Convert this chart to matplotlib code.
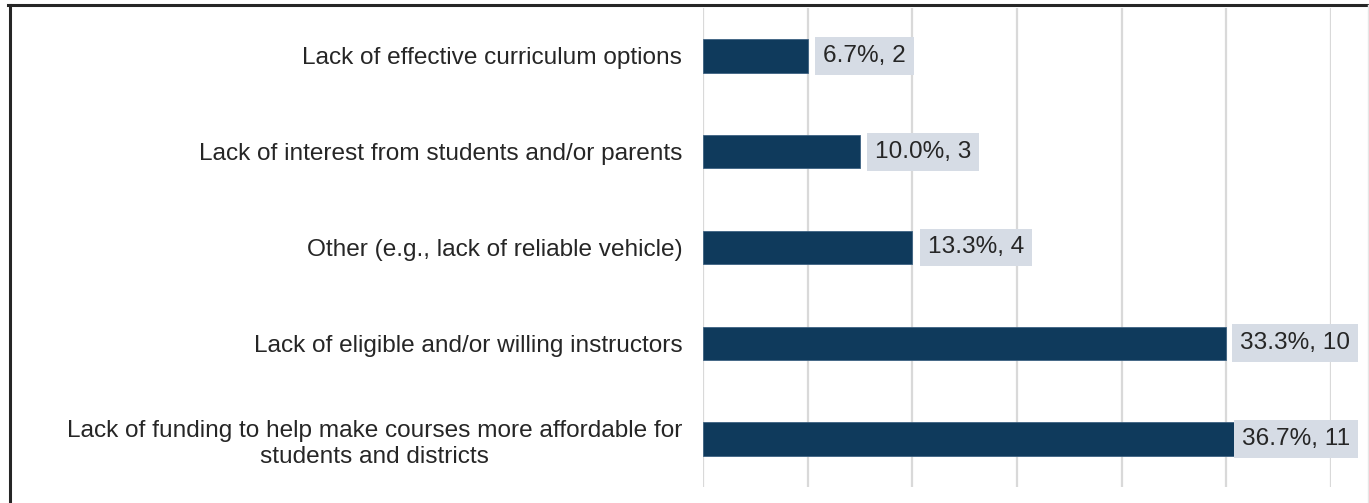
import matplotlib
matplotlib.use("Agg")
import matplotlib.pyplot as plt
from matplotlib.lines import Line2D

plt.rcParams["font.family"] = ["Liberation Sans", "DejaVu Sans"]

# Barriers, listed top to bottom
categories = [
    "Lack of effective curriculum options",
    "Lack of interest from students and/or parents",
    "Other (e.g., lack of reliable vehicle)",
    "Lack of eligible and/or willing instructors",
    "Lack of funding to help make courses more affordable for\nstudents and districts",
]
counts = [2, 3, 4, 10, 11]
percents = [6.7, 10.0, 13.3, 33.3, 36.7]
x_ticks = [0, 2, 4, 6, 8, 10, 12]

BAR_COLOR = "#0F3A5C"
BOX_COLOR = "#D6DCE5"
TEXT_COLOR = "#262626"
GRID_COLOR = "#D9D9D9"
FS = 17.6

W, H = 1369, 503
fig = plt.figure(figsize=(W / 100, H / 100), dpi=100)
ax = fig.add_axes([703 / W, 16 / H, (1331 - 703) / W, (487 - 8) / H])

ypos = list(range(len(categories)))
ax.barh(ypos, counts, height=0.35, color=BAR_COLOR, edgecolor="#3E6282",
        linewidth=0.6, zorder=2)

ax.set_xlim(x_ticks[0], x_ticks[-1])
ax.set_ylim(len(categories) - 0.5, -0.5)
ax.set_xticks(x_ticks)
ax.set_xticklabels([])
ax.tick_params(axis="both", length=0)
ax.grid(True, axis="x", color=GRID_COLOR, linewidth=1.6, zorder=0)
ax.set_axisbelow(True)
for s in ax.spines.values():
    s.set_visible(False)

ax.set_yticks(ypos)
ax.set_yticklabels(categories, fontsize=FS, color=TEXT_COLOR,
                   multialignment="center", linespacing=1.28)
ax.tick_params(axis="y", pad=15)

# value labels: "pct%, n" in a shaded box just past the bar end
labels = []
for y, c, p in zip(ypos, counts, percents):
    t = ax.annotate(f"{p:.1f}%, {c}", xy=(c, y), xytext=(11, 0),
                    textcoords="offset points", ha="left", va="center",
                    fontsize=FS, color=TEXT_COLOR, zorder=5,
                    annotation_clip=False,
                    bbox=dict(boxstyle="square,pad=0.32", fc=BOX_COLOR,
                              ec="none"))
    labels.append(t)

# keep label boxes inside the frame
fig.canvas.draw()
renderer = fig.canvas.get_renderer()
right_limit = 1358
for t in labels:
    ext = t.get_bbox_patch().get_window_extent(renderer)
    if ext.x1 > right_limit:
        dx_pt = (ext.x1 - right_limit) * 72 / fig.dpi
        ox, oy = t.xyann
        t.xyann = (ox - dx_pt, oy)

# frame: dark top and left edges, light right edge
fig.add_artist(Line2D([8 / W, 1], [1 - 5 / H, 1 - 5 / H], color="#262626",
                      linewidth=2.2, transform=fig.transFigure))
fig.add_artist(Line2D([9.5 / W, 9.5 / W], [0, 1 - 5 / H], color="#262626",
                      linewidth=2.2, transform=fig.transFigure))
fig.add_artist(Line2D([1367.5 / W, 1367.5 / W], [0, 1 - 5 / H],
                      color="#E6E6E6", linewidth=1.0,
                      transform=fig.transFigure))

fig.savefig("out.png", dpi=100)
